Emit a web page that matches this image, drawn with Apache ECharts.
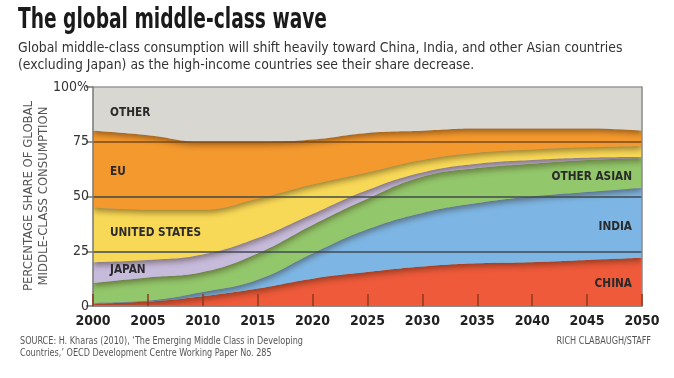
<!DOCTYPE html>
<html><head><meta charset="utf-8">
<script src="https://cdn.jsdelivr.net/npm/echarts@6/dist/echarts.min.js"></script>
<style>html,body{margin:0;padding:0;background:#fff}#c{width:674px;height:378px}</style>
</head><body><div id="c"></div>
<script>
const years = ['2000','2005','2010','2015','2020','2025','2030','2035','2040','2045','2050'];
const china      = [1, 2, 4.5, 8, 12.5, 15.5, 18, 19.5, 20, 21, 22];
const india      = [0.5, 0.5, 1.9, 4, 11.5, 19.5, 24.5, 27.5, 30, 31, 32];
const otherAsian = [9, 10.5, 9.1, 12, 13, 14, 16.5, 16, 15, 14.7, 13.5];
const japan      = [9.5, 8, 8, 7, 5, 4, 2, 2, 1.7, 1, 0.5];
const us         = [25, 23, 20.5, 18, 13.5, 8, 5.7, 5, 4.8, 4.8, 5];
const eu         = [35, 34, 31, 26, 20.5, 18, 13.3, 11, 9.5, 8.5, 7];
const other      = [20, 22, 25, 25, 24, 21, 20, 19, 19, 19, 20];
const yTicks = [0, 25, 50, 75, 100];

const FONT = '"Liberation Sans Narrow","DejaVu Sans Condensed",sans-serif';
const seriesDefs = [
  ['CHINA', china, '#ee5a3a'],
  ['INDIA', india, '#7db6e4'],
  ['OTHER ASIAN', otherAsian, '#93c76b'],
  ['JAPAN', japan, '#c7bbdc'],
  ['UNITED STATES', us, '#f8d957'],
  ['EU', eu, '#f4992e'],
  ['OTHER', other, '#d8d7d2']
];

function txt(x, y, text, o) {
  o = o || {};
  return {
    type: 'text', x: x, y: y, scaleX: o.sx || 1, rotation: o.rot || 0, z: 100,
    style: {
      text: text, x: 0, y: 0,
      font: (o.w || 'normal') + ' ' + (o.s || 12) + 'px ' + FONT,
      fill: o.c || '#222', textAlign: o.a || 'left', textVerticalAlign: 'middle',
      lineHeight: o.lh
    }
  };
}

const chart = echarts.init(document.getElementById('c'));
chart.setOption({
  backgroundColor: '#ffffff',
  animation: false,
  grid: { left: 93, right: 32, top: 87, bottom: 72 },
  xAxis: {
    type: 'category', data: years, boundaryGap: false, z: 10,
    axisLine: { lineStyle: { color: '#8a8a8a', width: 1.5 } },
    axisTick: { inside: true, length: 12, lineStyle: { color: '#8c3a22', width: 1.5 } },
    axisLabel: { color: '#222', fontFamily: FONT, fontWeight: 'bold', fontSize: 14, margin: 8 }
  },
  yAxis: [{
    type: 'value', min: 0, max: 100, interval: 25, z: 10,
    axisLine: { show: true, lineStyle: { color: '#777', width: 1.5 } },
    axisTick: { show: true, length: 7, lineStyle: { color: '#777', width: 1.5 } },
    axisLabel: { color: '#333', fontFamily: FONT, fontSize: 14, margin: 4,
      formatter: v => v === 100 ? '100%' : String(v) },
    splitLine: { show: true, lineStyle: { color: ['#666', '#3f4a55', '#3f4a4a', '#7a4a1a', '#9a9a9a'], width: 1.5 } }
  }, {
    type: 'value', min: 0, max: 100, position: 'right', z: 10,
    axisLine: { show: true, lineStyle: { color: '#8a8a8a', width: 1.5 } },
    axisTick: { show: false }, axisLabel: { show: false }, splitLine: { show: false }
  }],
  series: seriesDefs.map((d, i) => ({
    name: d[0], type: 'line', stack: 'all', data: d[1], smooth: 0.45,
    symbol: 'none', lineStyle: { width: 0 },
    areaStyle: { color: d[2], opacity: 1,
      shadowColor: 'rgba(40,20,0,0.45)', shadowBlur: 6, shadowOffsetY: 3 },
    z: 2 + i
  })),
  graphic: [
    txt(18, 21, 'The global middle-class wave', { w: 'bold', s: 28, c: '#1a1a1a', sx: 0.74 }),
    txt(18, 48, 'Global middle-class consumption will shift heavily toward China, India, and other Asian countries', { s: 14, c: '#333', sx: 0.99 }),
    txt(18, 65, '(excluding Japan) as the high-income countries see their share decrease.', { s: 14, c: '#333', sx: 0.99 }),
    txt(36, 196, 'PERCENTAGE SHARE OF GLOBAL\nMIDDLE-CLASS CONSUMPTION', { s: 13, c: '#555', a: 'center', rot: Math.PI / 2, lh: 15 }),
    txt(110, 113, 'OTHER', { w: 'bold', s: 13, c: '#2a2a2a', sx: 0.9 }),
    txt(110, 172, 'EU', { w: 'bold', s: 13, c: '#2a2a2a', sx: 0.9 }),
    txt(110, 233, 'UNITED STATES', { w: 'bold', s: 13, c: '#2a2a2a', sx: 0.9 }),
    txt(110, 270, 'JAPAN', { w: 'bold', s: 13, c: '#2a2a2a', sx: 0.9 }),
    txt(632, 177, 'OTHER ASIAN', { w: 'bold', s: 13, c: '#2a2a2a', a: 'right', sx: 0.9 }),
    txt(632, 227, 'INDIA', { w: 'bold', s: 13, c: '#2a2a2a', a: 'right', sx: 0.9 }),
    txt(632, 284, 'CHINA', { w: 'bold', s: 13, c: '#2a2a2a', a: 'right', sx: 0.9 }),
    txt(20, 341, 'SOURCE: H. Kharas (2010), \u2018The Emerging Middle Class in Developing', { s: 10, c: '#555', sx: 0.9 }),
    txt(20, 353, 'Countries,\u2019 OECD Development Centre Working Paper No. 285', { s: 10, c: '#555', sx: 0.9 }),
    txt(651, 341, 'RICH CLABAUGH/STAFF', { s: 10, c: '#555', a: 'right', sx: 0.9 })
  ]
});
</script></body></html>
